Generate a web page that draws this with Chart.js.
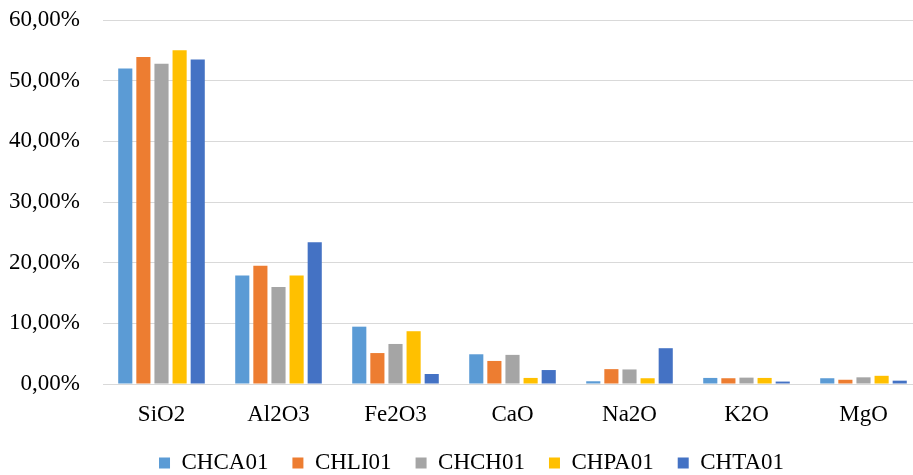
<!DOCTYPE html>
<html>
<head>
<meta charset="utf-8">
<script src="https://cdn.jsdelivr.net/npm/chart.js@4/dist/chart.umd.min.js"></script>
<style>
  html, body { margin: 0; padding: 0; background: #ffffff; }
  #wrap { position: relative; width: 913px; height: 475px; }
</style>
</head>
<body>
<div id="wrap"><canvas id="chart"></canvas></div>
<script>
// Oxide composition (%) per sample
const categories = ['SiO2', 'Al2O3', 'Fe2O3', 'CaO', 'Na2O', 'K2O', 'MgO'];
const seriesNames = ['CHCA01', 'CHLI01', 'CHCH01', 'CHPA01', 'CHTA01'];
const CHCA01 = [52.0, 17.9, 9.45, 4.9, 0.45, 1.0, 0.95];
const CHLI01 = [53.9, 19.5, 5.1, 3.8, 2.45, 0.95, 0.7];
const CHCH01 = [52.8, 16.0, 6.6, 4.8, 2.4, 1.05, 1.1];
const CHPA01 = [55.0, 17.9, 8.7, 1.0, 0.95, 1.0, 1.35];
const CHTA01 = [53.5, 23.35, 1.65, 2.3, 5.9, 0.4, 0.55];
const yTicks = [0, 10, 20, 30, 40, 50, 60];

const colors = ['#5B9BD5', '#ED7D31', '#A5A5A5', '#FFC000', '#4472C4'];
const values = [CHCA01, CHLI01, CHCH01, CHPA01, CHTA01];

const font = { family: '"Liberation Serif", "Times New Roman", serif', size: 23 };

// Layout targets (px)
const AXIS_LEFT = 103;      // left edge of the plotting area
const BASELINE_Y = 384;     // y of the 0 % line
const LABEL_BAND = 46;      // room kept for the category labels under the axis
const X_OVERRUN = 9;        // the category axis runs a little past the canvas edge
const LEGEND_ROW_Y = 463;   // vertical centre of the legend row
const LEGEND_SHIFT_X = 15;  // horizontal offset of the legend row

// Adjust the category axis span, keep its labels unclipped and place the legend row
const layoutTweaks = {
  id: 'layoutTweaks',
  afterLayout(chart) {
    const xs = chart.scales.x;
    if (xs) {
      if (xs.bottom < xs.top + LABEL_BAND) {
        xs.bottom = xs.top + LABEL_BAND;
        xs.height = LABEL_BAND;
      }
      xs.right += X_OVERRUN;
      xs.width += X_OVERRUN;
      xs.configure();
    }
    const lg = chart.legend;
    if (!lg) return;
    const pad = lg.options.labels.padding;
    const fs = lg.options.labels.font.size;
    const dy = (LEGEND_ROW_Y - fs / 2 - pad) - lg.top;
    lg.top += dy; lg.bottom += dy;
    lg.left += LEGEND_SHIFT_X; lg.right += LEGEND_SHIFT_X;
  }
};

new Chart(document.getElementById('chart'), {
  type: 'bar',
  data: {
    labels: categories,
    datasets: seriesNames.map((name, i) => ({
      label: name,
      data: values[i],
      backgroundColor: colors[i],
      borderWidth: 0,
      categoryPercentage: 0.774,
      barPercentage: 0.78
    }))
  },
  plugins: [layoutTweaks],
  options: {
    responsive: true,
    maintainAspectRatio: false,
    animation: false,
    layout: { padding: { top: 20, right: 0, left: 0, bottom: 0 } },
    plugins: {
      tooltip: { enabled: false },
      legend: {
        position: 'bottom',
        labels: {
          font: font,
          color: '#000000',
          boxWidth: 11,
          boxHeight: 11,
          padding: 24
        }
      }
    },
    scales: {
      x: {
        grid: { display: false, drawTicks: false },
        border: { display: true, color: '#d9d9d9', width: 1 },
        ticks: { font: font, color: '#000000', padding: 17 },
        afterFit: (scale) => {
          const lgH = scale.chart.legend ? scale.chart.legend.height : 0;
          scale.height = Math.max(scale.chart.height - BASELINE_Y - lgH, 0);
          scale.paddingLeft = 0;
          scale.paddingRight = 0;
        }
      },
      y: {
        min: 0,
        max: 60,
        afterBuildTicks: (axis) => { axis.ticks = yTicks.map(v => ({ value: v })); },
        afterFit: (scale) => {
          scale.width = AXIS_LEFT;
          scale.paddingTop = 0;
          scale.paddingBottom = 0;
        },
        grid: { color: '#d9d9d9', lineWidth: 1, drawTicks: false },
        border: { display: false },
        ticks: {
          font: font,
          color: '#000000',
          padding: 23,
          callback: (v) => v.toFixed(2).replace('.', ',') + '%'
        }
      }
    }
  }
});
</script>
</body>
</html>
